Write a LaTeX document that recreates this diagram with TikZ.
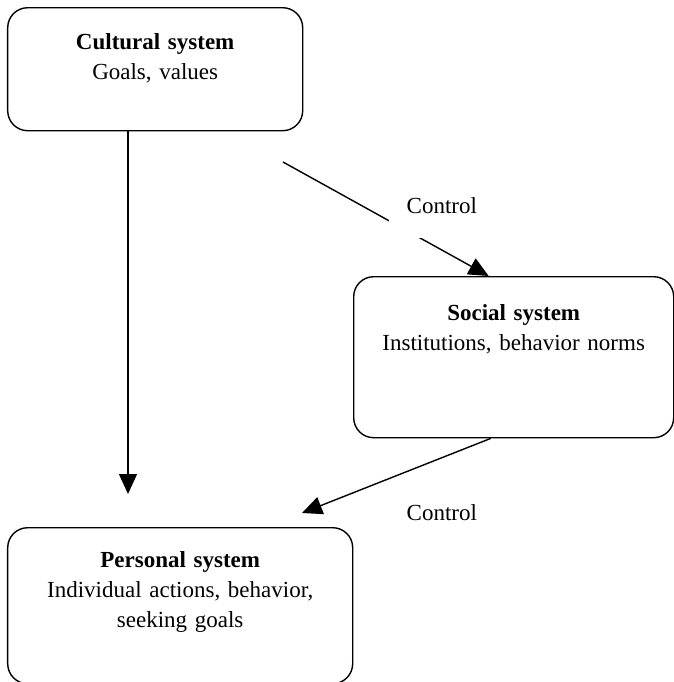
\documentclass[tikz,border=0pt]{standalone}
\usepackage{fontspec}
\setmainfont{Liberation Serif}
\usetikzlibrary{arrows.meta}
\usetikzlibrary{positioning}

\begin{document}
\begin{tikzpicture}[
              x = 0.5pt, y = -0.5pt, % pixel grid, y downwards
              > = {Triangle[length=10pt, width=9pt]}, % arrow head style
     line width = 0.7pt,
           font = \fontsize{11.5}{15}\selectfont
        ]

        \tikzstyle{system}=[
            draw,
            rounded corners = 10pt,
            inner sep = 0pt,
            align = center,
            anchor = north west
        ]
        \tikzstyle{ctrl}=[
            fill = white,
            inner xsep = 9pt,
            inner ysep = 0pt,
            anchor = base west
        ]

        \useasboundingbox (0,0) rectangle (674,682);

	% systems
        \node[system, text width=147.5pt, text height=21pt, text depth=40.5pt] (cult) at (7,7)
            {\textbf{Cultural system}\\Goals, values};
        \node[system, text width=160pt, text height=22pt, text depth=58.5pt] (soc) at (353,276)
            {\textbf{Social system}\\Institutions, behavior norms};
        \node[system, text width=172.5pt, text height=20pt, text depth=58pt] (pers) at (7,527)
            {\textbf{Personal system}\\Individual actions, behavior,\\seeking goals};

         % free ends
         \coordinate (cultTail) at (283,162);
         \coordinate (persTip) at (128,494);
         \coordinate (socTip) at (302,513);

         \draw[->] (persTip |- cult.south) -- (persTip);
         \draw[->] (cultTail) -- ([xshift=-12.5pt]soc.north);
         \draw[->] ([xshift=-11.5pt]soc.south) -- (socTip);

         % labels
         \node[ctrl, text depth=12.5pt] (ctrlA) at (388,213) {Control};
         \node[ctrl, fill=none, inner sep=0pt] (ctrlB) at (406,520) {Control};

  \end{tikzpicture}
\end{document}
